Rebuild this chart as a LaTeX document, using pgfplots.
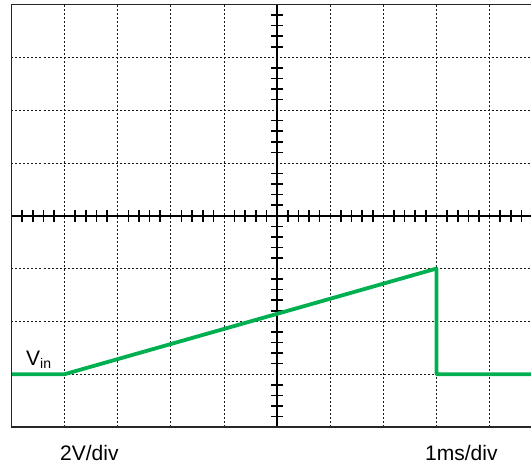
\documentclass[border=0pt]{standalone}
\usepackage{fontspec}
\setmainfont{Liberation Sans}
\usepackage{pgfplots}
\pgfplotsset{compat=1.18}
\definecolor{scopegreen}{RGB}{0,176,80}

\begin{document}
\begin{tikzpicture}
\useasboundingbox (-11.5pt,-37pt) rectangle (519.5pt,427pt);
\begin{axis}[
    at={(0pt,0pt)}, anchor=south west,
    scale only axis, width=519.5pt, height=422.5pt,
    xmin=-5, xmax=4.78, ymin=-4, ymax=4,
    axis lines=middle,
    axis line style={-, line width=1.8pt, black},
    xtick={-5,...,4}, ytick={-4,...,4},
    xticklabels={}, yticklabels={},
    minor xtick={-4.8,-4.6,-4.4,-4.2,-3.8,-3.6,-3.4,-3.2,-2.8,-2.6,-2.4,-2.2,
                 -1.8,-1.6,-1.4,-1.2,-0.8,-0.6,-0.4,-0.2,0.2,0.4,0.6,0.8,
                 1.2,1.4,1.6,1.8,2.2,2.4,2.6,2.8,3.2,3.4,3.6,3.8,4.2,4.4,4.6},
    minor ytick={-3.8,-3.6,-3.4,-3.2,-2.8,-2.6,-2.4,-2.2,-1.8,-1.6,-1.4,-1.2,
                 -0.8,-0.6,-0.4,-0.2,0.2,0.4,0.6,0.8,1.2,1.4,1.6,1.8,
                 2.2,2.4,2.6,2.8,3.2,3.4,3.6,3.8},
    major tick length=0pt, minor tick length=12pt,
    tick align=center,
    every tick/.style={black, line width=1.6pt},
    grid=major,
    major grid style={black!90, line width=0.75pt, dash pattern=on 2pt off 2pt},
    clip=false,
]
% Vin waveform
\addplot[scopegreen, line width=3.8pt, line join=round] coordinates {
    (-5,-3) (-4,-3) (3,-1) (3,-3) (4.78,-3)
};
\draw[black!85, line width=1.8pt, line join=miter]
    (rel axis cs:1,1) -- (rel axis cs:0,1) -- (rel axis cs:0,0) -- (rel axis cs:1,0);
\end{axis}
\node[anchor=base west, inner sep=0pt, font=\fontsize{21}{25}\selectfont] at (48.5pt,-33pt) {2V/div};
\node[anchor=base west, inner sep=0pt, font=\fontsize{21}{25}\selectfont] at (413.5pt,-33pt) {1ms/div};
\node[anchor=base west, inner sep=0pt, font=\fontsize{21}{25}\selectfont] at (14.5pt,62pt) {V\raisebox{-4pt}{\fontsize{14}{14}\selectfont in}};
\end{tikzpicture}
\end{document}
